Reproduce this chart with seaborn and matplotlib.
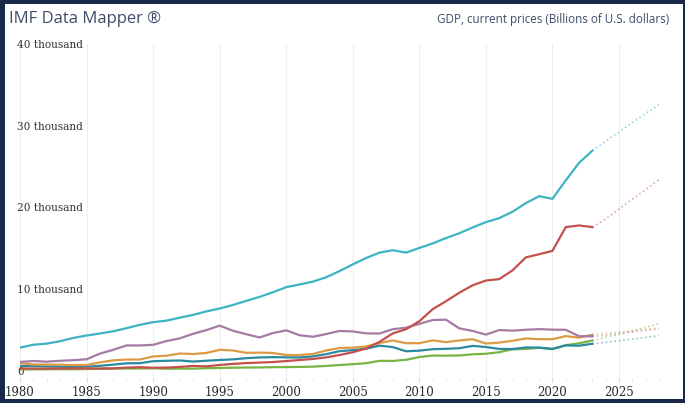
from matplotlib import pyplot as plt
from matplotlib.patches import Rectangle
from matplotlib.ticker import MultipleLocator
import pandas as pd
import seaborn as sns

# GDP, current prices, billions of USD (1980-2028, 2024+ are projections)
years = list(range(1980, 2029))
usa = [2857, 3207, 3344, 3634, 4037, 4339, 4580, 4855, 5236, 5642,
       5963, 6158, 6520, 6859, 7287, 7639, 8073, 8578, 9063, 9631,
       10251, 10582, 10929, 11457, 12217, 13039, 13816, 14474, 14770, 14478,
       15049, 15600, 16254, 16843, 17551, 18206, 18695, 19477, 20533, 21381,
       21060, 23315, 25464, 26950, 28100, 29250, 30400, 31500, 32600]
china = [303, 294, 285, 304, 315, 311, 301, 327, 408, 457,
         395, 415, 494, 617, 564, 734, 864, 962, 1029, 1094,
         1211, 1339, 1471, 1660, 1955, 2286, 2752, 3550, 4594, 5102,
         6087, 7552, 8532, 9570, 10476, 11062, 11233, 12310, 13895, 14280,
         14688, 17600, 17800, 17600, 18600, 19800, 21000, 22200, 23400]
japan = [1105, 1218, 1134, 1243, 1319, 1427, 2121, 2585, 3126, 3117,
         3196, 3657, 3988, 4545, 4999, 5546, 4923, 4492, 4098, 4636,
         4968, 4374, 4183, 4519, 4893, 4831, 4601, 4580, 5106, 5289,
         5759, 6233, 6272, 5212, 4897, 4445, 5004, 4931, 5041, 5118,
         5055, 5034, 4256, 4231, 4350, 4570, 4780, 4960, 5140]
germany = [950, 801, 777, 771, 725, 733, 1046, 1296, 1400, 1398,
           1771, 1868, 2132, 2072, 2206, 2588, 2503, 2219, 2241, 2199,
           1948, 1946, 2078, 2502, 2815, 2846, 2992, 3421, 3730, 3398,
           3397, 3744, 3527, 3733, 3890, 3357, 3469, 3690, 3974, 3889,
           3887, 4260, 4082, 4430, 4590, 4760, 4920, 5080, 5240]
india = [186, 196, 204, 222, 215, 237, 253, 283, 300, 301,
         326, 275, 294, 284, 333, 366, 400, 423, 429, 466,
         476, 493, 524, 618, 722, 834, 949, 1238, 1224, 1365,
         1709, 1881, 1874, 1897, 2039, 2104, 2295, 2652, 2703, 2836,
         2672, 3150, 3390, 3730, 4100, 4500, 4900, 5330, 5800]
uk = [604, 587, 551, 522, 492, 522, 632, 775, 939, 951,
      1193, 1246, 1283, 1151, 1254, 1344, 1420, 1565, 1653, 1688,
      1666, 1649, 1785, 2054, 2422, 2542, 2717, 3097, 2923, 2412,
      2485, 2664, 2707, 2785, 3065, 2934, 2700, 2683, 2878, 2857,
      2705, 3131, 3089, 3330, 3500, 3700, 3900, 4100, 4300]

series = {'United States': usa, 'China': china, 'Japan': japan,
          'Germany': germany, 'India': india, 'United Kingdom': uk}
colors = {'United States': '#3db3c3', 'China': '#c4504e', 'Japan': '#a57ba4',
          'Germany': '#dc9a44', 'India': '#78b444', 'United Kingdom': '#2b8aa0'}
last_actual = 2023
y_ticks = [0, 10000, 20000, 30000, 40000]
y_tick_labels = ['0', '10 thousand', '20 thousand', '30 thousand', '40 thousand']
x_ticks = [1980, 1985, 1990, 1995, 2000, 2005, 2010, 2015, 2020, 2025]

df = pd.DataFrame({'year': years, **series}).melt(id_vars='year', var_name='country', value_name='gdp')
actual = df[df['year'] <= last_actual]
proj = df[df['year'] >= last_actual]

W, H = 685, 403
fig = plt.figure(figsize=(W / 100, H / 100), dpi=100)
fig.patch.set_facecolor('#18294a')
# white card behind the chart
fig.add_artist(Rectangle((5 / W, 4 / H), 678 / W, 395 / H, transform=fig.transFigure,
                         facecolor='white', edgecolor='none', zorder=-10))

px_per_year = 599 / 45
ax = fig.add_axes([20 / W, (H - 382) / H, (2028.5 - 1980) * px_per_year / W, 338 / H])
ax.set_facecolor('none')

# order: draw lower lines first so US / China sit on top
for name in ['India', 'United Kingdom', 'Germany', 'Japan', 'China', 'United States']:
    sns.lineplot(data=actual[actual['country'] == name], x='year', y='gdp', ax=ax,
                 color=colors[name], linewidth=1.6, legend=False)
    sns.lineplot(data=proj[proj['country'] == name], x='year', y='gdp', ax=ax,
                 color=colors[name], linewidth=1.2, linestyle=':', alpha=0.5, legend=False)

ax.set_xlim(1980, 2028.5)
ax.set_ylim(-1350, 40000)
ax.set_xlabel('')
ax.set_ylabel('')
for s in ax.spines.values():
    s.set_visible(False)

ax.set_xticks(x_ticks)
ax.set_xticklabels([str(x) for x in x_ticks])
ax.xaxis.set_minor_locator(MultipleLocator(1))
ax.tick_params(axis='x', which='major', length=3, direction='in', color='#dddddd', pad=3,
               labelsize=8.5, labelcolor='#2a2a2a')
ax.tick_params(axis='x', which='minor', length=2, direction='in', color='#dddddd')
for lab in ax.get_xticklabels():
    lab.set_family('DejaVu Serif')
ax.grid(True, axis='x', color='#eeeeee', linewidth=0.8)
ax.set_axisbelow(True)

ax.set_yticks(y_ticks)
ax.set_yticklabels(y_tick_labels)
ax.tick_params(axis='y', length=0, pad=2.2, labelsize=7.6, labelcolor='#333333')
for lab in ax.get_yticklabels():
    lab.set_horizontalalignment('left')
    lab.set_family('DejaVu Serif')

fig.text(9 / W, 1 - 19 / H, 'IMF Data Mapper ®', family='Open Sans', fontsize=12,
         color='#3e4d6a', va='center', ha='left')
fig.text(669 / W, 1 - 19 / H, 'GDP, current prices (Billions of U.S. dollars)', family='Open Sans',
         fontsize=8.4, color='#3e4d6a', va='center', ha='right')

fig.savefig('out.png', dpi=100, facecolor=fig.get_facecolor())
